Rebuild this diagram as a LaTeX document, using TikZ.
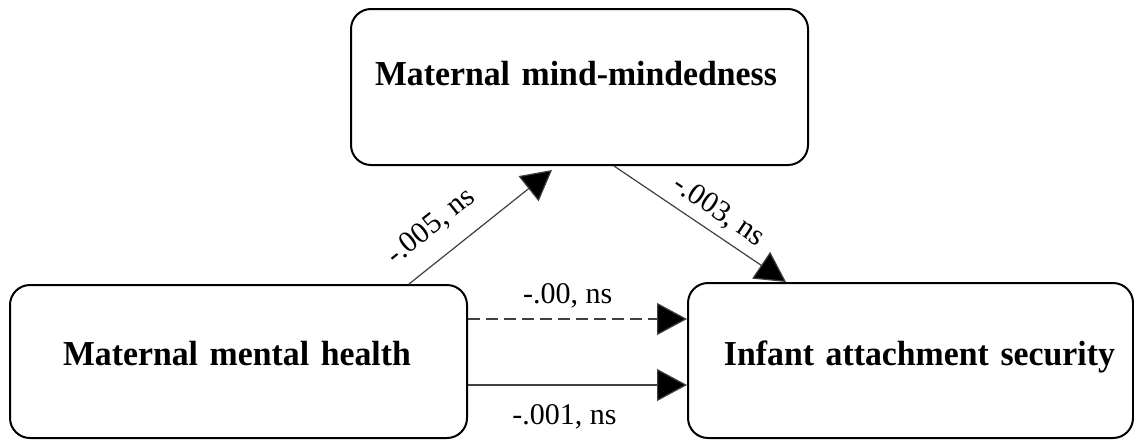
\documentclass[tikz,border=0pt]{standalone}
\usepackage{fontspec}
\setmainfont{Liberation Serif}[BoldFeatures={FakeStretch=0.965,WordSpace=0.8}]
\usetikzlibrary{arrows.meta}

\begin{document}
\begin{tikzpicture}
  [x=1pt,y=1pt,
    var/.style={draw,line width=1pt,rounded corners=10pt,inner sep=0pt,
      font=\bfseries\fontsize{17.5}{21}\selectfont,minimum width=228.5pt},
    eff/.style={draw=black!75,line width=0.6pt,-{Triangle[length=15pt,width=16pt,fill=black]}},
    coef/.style={inner sep=0pt,font=\fontsize{15}{18}\selectfont},
]
  \useasboundingbox (0,0) rectangle (567,220.5);
  % the three variables
  \node[var,text height=38pt,text depth=40pt,text width=204.5pt,align=left] (mmd) at (289.75,177) {Maternal mind-mindedness};
  \node[var,text height=40pt,text depth=36.5pt,text width=175.5pt,align=left] (mmh) at (119.25,39.75) {Maternal mental health};
  \node[var,text height=41pt,text depth=36.5pt,text width=204.5pt,align=right,minimum width=222.5pt] (ias) at (455.25,40.25) {Infant attachment security};
  % paths
  \draw[eff] ([xshift=-29.5pt]mmh.north east) -- node[coef,sloped,pos=0.29,above=9pt] {-.005, ns}
    ([xshift=101pt,yshift=-2pt]mmd.south west);
  \draw[eff] ([xshift=132pt]mmd.south west) -- node[coef,sloped,pos=0.54,above=4pt] {-.003, ns}
    ([xshift=49.5pt]ias.north west);
  \coordinate (ind) at ([yshift=21.25pt]mmh.east);
  \coordinate (dir) at ([yshift=-11.75pt]mmh.east);
  \draw[eff,dash pattern=on 6pt off 3pt] (ind) -- node[coef,pos=0.455,above=5pt] {-.00, ns} (ind -| ias.west);
  \draw[eff] (dir) -- node[coef,pos=0.44,below=9.5pt] {-.001, ns} (dir -| ias.west);
\end{tikzpicture}
\end{document}
